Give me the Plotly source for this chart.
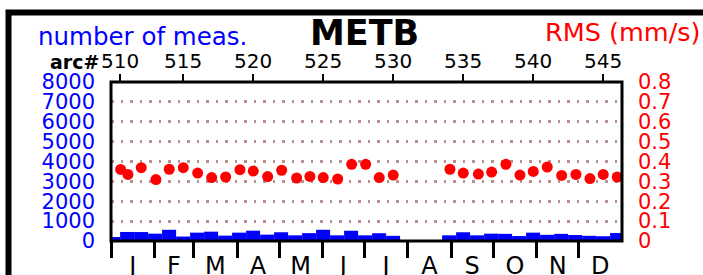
import plotly.graph_objects as go

# ---------------- data ----------------
arc_numbers = list(range(510, 547))
# arc mid-points (day of year) used for the measurement-count bars
arc_mid_doy = [1.5, 11.5, 21.5, 31.5, 41.5, 51.5, 61.5, 71.5, 81.5, 91.5,
               101.5, 111.5, 121.5, 131.5, 141.5, 151.5, 161.5, 171.5, 181.5, 191.5,
               201.5, 211.5, 221.5, 231.5, 241.5, 251.5, 261.5, 271.5, 281.5, 291.5,
               301.5, 311.5, 321.5, 331.5, 341.5, 351.5, 361.5]
n_meas = [200, 455, 450, 370, 565, 225, 420, 470, 270, 420,
          520, 320, 440, 285, 395, 565, 285, 515, 285, 390,
          260, 0, 0, 0, 285, 440, 285, 370, 360, 250,
          420, 310, 360, 300, 260, 240, 400]
# RMS points (day of year) and values (mm/s)
rms_doy = [6.9, 12.1, 21.6, 32.1, 41.6, 51.6, 61.9, 71.9, 81.9, 92.1,
           101.6, 111.9, 121.9, 132.6, 142.1, 151.6, 161.9, 171.9, 181.9, 191.6,
           201.6, None, None, None, 242.1, 251.6, 262.4, 271.9, 282.1, 292.1,
           301.6, 311.6, 321.9, 332.1, 342.1, 351.6, 361.6]
rms = [0.360, 0.335, 0.369, 0.309, 0.361, 0.369, 0.342, 0.319, 0.322, 0.359,
       0.352, 0.324, 0.356, 0.317, 0.325, 0.319, 0.312, 0.386, 0.386, 0.319,
       0.332, None, None, None, 0.361, 0.342, 0.337, 0.347, 0.386, 0.332,
       0.350, 0.372, 0.330, 0.335, 0.314, 0.335, 0.322]

arc_tick_labels = ["510", "515", "520", "525", "530", "535", "540", "545"]
arc_tick_doy = [6.5, 51.5, 101.5, 151.5, 201.5, 251.5, 301.5, 351.5]

month_labels = ["J", "F", "M", "A", "M", "J", "J", "A", "S", "O", "N", "D"]
month_start_doy = [0, 31, 59, 90, 120, 151, 181, 212, 243, 273, 304, 334]
month_mid_doy = [15.5, 45, 74.5, 105, 135.5, 166, 196.5, 227.5, 258, 288.5, 319, 349.5]

count_ticks = [0, 1000, 2000, 3000, 4000, 5000, 6000, 7000, 8000]
rms_ticks = [0, 0.1, 0.2, 0.3, 0.4, 0.5, 0.6, 0.7, 0.8]

# ---------------- layout geometry ----------------
W, H = 703, 275
L, R, T, B = 111, 81, 82, 34
PW = W - L - R
PH = H - T - B
FONT = "DejaVu Sans"


def px_x(x):
    return (x - L) / PW


def px_y(y):
    return (H - B - y) / PH


fig = go.Figure()
fig.add_trace(go.Bar(
    x=arc_mid_doy, y=n_meas, width=[10] * len(arc_mid_doy),
    marker=dict(color="#0000ff", line=dict(width=0)),
    xaxis="x", yaxis="y", showlegend=False))
fig.add_trace(go.Scatter(
    x=rms_doy, y=rms, mode="markers",
    marker=dict(color="#ff0000", size=11, line=dict(width=0)),
    xaxis="x2", yaxis="y2", showlegend=False))

fig.update_layout(
    width=W, height=H,
    margin=dict(l=L, r=R, t=T, b=B, pad=0, autoexpand=False),
    paper_bgcolor="white", plot_bgcolor="white",
    font=dict(family=FONT, color="black"),
    xaxis=dict(
        range=[0, 365], domain=[0, 1], automargin=False,
        tickmode="array", tickvals=month_mid_doy, ticktext=month_labels,
        ticks="",
        ticklabelstandoff=8,
        minor=dict(tickmode="array", tickvals=month_start_doy, ticks="outside",
                   ticklen=16, tickwidth=2.5, tickcolor="black", showgrid=False),
        tickfont=dict(family=FONT, size=24, color="black"),
        showgrid=False, zeroline=False, showline=False),
    xaxis2=dict(
        range=[0, 365], overlaying="x", side="top", automargin=False,
        tickmode="array", tickvals=arc_tick_doy, ticktext=arc_tick_labels,
        ticks="outside", ticklen=7, tickwidth=2, tickcolor="black",
        ticklabelstandoff=-2,
        tickfont=dict(family=FONT, size=20, color="black"),
        showgrid=False, zeroline=False, showline=False),
    yaxis=dict(
        range=[0, 8000], automargin=False,
        tickmode="array", tickvals=count_ticks,
        ticktext=[str(v) for v in count_ticks], ticks="",
        tickfont=dict(family=FONT, size=21, color="#0000ff"),
        ticklabelstandoff=15,
        showgrid=True, gridcolor="#bc8f8f", gridwidth=2.5, griddash="2.5px,7px",
        zeroline=False, showline=False),
    yaxis2=dict(
        range=[0, 0.8], overlaying="y", side="right", automargin=False,
        tickmode="array", tickvals=rms_ticks,
        ticktext=["0"] + ["%.1f" % v for v in rms_ticks[1:]], ticks="",
        tickfont=dict(family=FONT, size=21, color="#ff0000"),
        ticklabelstandoff=15,
        showgrid=False, zeroline=False, showline=False),
    shapes=[
        dict(type="rect", xref="paper", yref="paper", x0=0, x1=1, y0=0, y1=1,
             line=dict(color="black", width=3), layer="above"),
        dict(type="rect", xref="paper", yref="paper",
             x0=px_x(8.5), x1=px_x(950), y0=px_y(12.5), y1=px_y(500),
             line=dict(color="black", width=6), layer="above"),
    ],
    annotations=[
        dict(text="number of meas.", xref="paper", yref="paper",
             x=px_x(36), y=px_y(36), xanchor="left", yanchor="middle",
             showarrow=False, font=dict(family=FONT, size=24.5, color="#0000ff")),
        dict(text="<b>METB</b>", xref="paper", yref="paper",
             x=px_x(364), y=px_y(33.5), xanchor="center", yanchor="middle",
             showarrow=False, font=dict(family=FONT, size=35, color="black")),
        dict(text="RMS (mm/s)", xref="paper", yref="paper",
             x=px_x(702), y=px_y(32.5), xanchor="right", yanchor="middle",
             showarrow=False, font=dict(family=FONT, size=25.5, color="#ff0000")),
        dict(text="<b>arc#</b>", xref="paper", yref="paper",
             x=px_x(101), y=px_y(62.5), xanchor="right", yanchor="middle",
             showarrow=False, font=dict(family=FONT, size=19, color="black")),
    ],
)

fig.write_html(
    "out.html",
    config={"displayModeBar": False},
    post_script="document.body.style.margin='0';document.body.style.overflow='hidden';",
)
